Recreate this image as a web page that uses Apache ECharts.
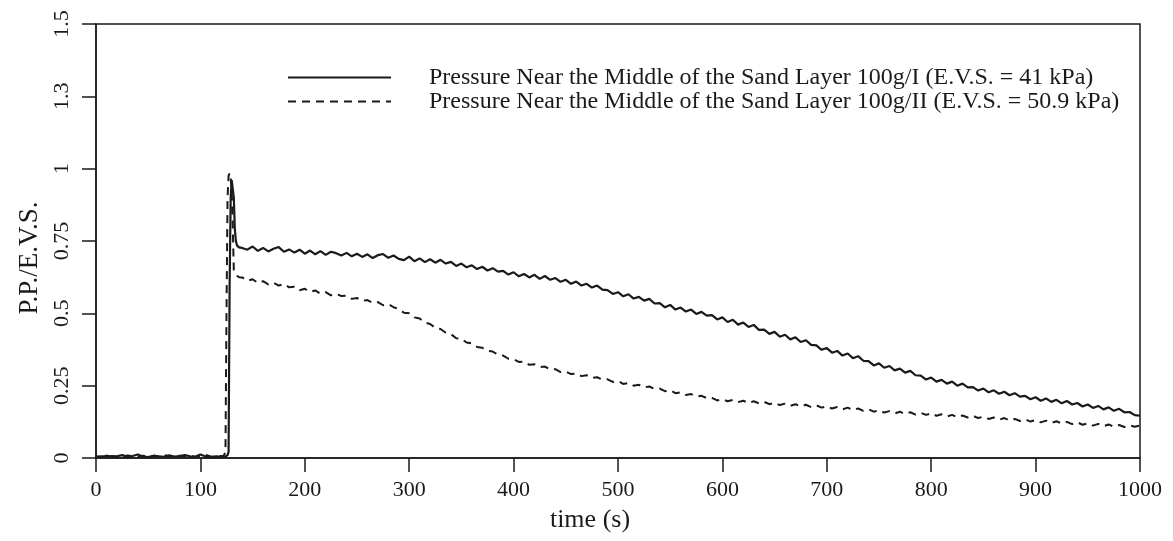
<!DOCTYPE html>
<html>
<head>
<meta charset="utf-8">
<script src="https://cdn.jsdelivr.net/npm/echarts@6/dist/echarts.min.js"></script>
<style>
html,body{margin:0;padding:0;background:#fff;}
#chart{width:1173px;height:541px;}
</style>
</head>
<body>
<div id="chart"></div>
<script>
// time (s)
const time = [
  0,5,10,15,20,25,30,35,40,45,50,55,60,65,70,75,80,85,90,95,100,105,110,115,120,
  122,124,125,126,127,128,129,130,131,132,133,134,135,137,
  140,145,150,155,160,165,170,175,180,185,
  190,195,200,205,210,215,220,225,230,235,
  240,245,250,255,260,265,270,275,280,285,
  290,295,300,305,310,315,320,325,330,335,
  340,345,350,355,360,365,370,375,380,385,
  390,395,400,405,410,415,420,425,430,435,
  440,445,450,455,460,465,470,475,480,485,
  490,495,500,505,510,515,520,525,530,535,
  540,545,550,555,560,565,570,575,580,585,
  590,595,600,605,610,615,620,625,630,635,
  640,645,650,655,660,665,670,675,680,685,
  690,695,700,705,710,715,720,725,730,735,
  740,745,750,755,760,765,770,775,780,785,
  790,795,800,805,810,815,820,825,830,835,
  840,845,850,855,860,865,870,875,880,885,
  890,895,900,905,910,915,920,925,930,935,
  940,945,950,955,960,965,970,975,980,985,
  990,995,1000
];
// Pressure near the middle of the sand layer 100g/I (solid)
const seriesI = [
  0.005,0.003,0.008,0.004,0.006,0.010,0.004,0.007,0.012,0.005,0.003,0.008,0.006,0.004,0.009,0.005,0.007,0.010,0.006,0.004,0.012,0.005,0.003,0.006,0.004,
  0.004,0.005,0.006,0.010,0.020,0.600,0.900,0.960,0.965,0.900,0.790,0.750,0.735,0.728,
  0.726,0.720,0.731,0.716,0.726,0.714,0.723,0.729,0.713,0.721,
  0.710,0.720,0.706,0.717,0.704,0.715,0.702,0.713,0.708,0.700,
  0.709,0.697,0.706,0.695,0.704,0.691,0.701,0.705,0.692,0.700,
  0.688,0.684,0.696,0.680,0.690,0.677,0.687,0.675,0.685,0.672,
  0.678,0.664,0.672,0.659,0.666,0.653,0.661,0.648,0.656,0.644,
  0.647,0.634,0.642,0.628,0.636,0.624,0.633,0.619,0.629,0.616,
  0.622,0.609,0.616,0.602,0.610,0.596,0.602,0.589,0.596,0.582,
  0.580,0.567,0.573,0.559,0.566,0.551,0.557,0.544,0.550,0.534,
  0.535,0.521,0.529,0.513,0.520,0.506,0.513,0.498,0.505,0.492,
  0.494,0.479,0.486,0.470,0.478,0.461,0.468,0.453,0.460,0.443,
  0.444,0.429,0.436,0.419,0.426,0.410,0.417,0.401,0.407,0.391,
  0.389,0.374,0.380,0.364,0.370,0.354,0.361,0.345,0.352,0.336,
  0.335,0.320,0.327,0.312,0.318,0.303,0.309,0.295,0.301,0.286,
  0.285,0.271,0.278,0.264,0.270,0.257,0.264,0.250,0.257,0.244,
  0.245,0.233,0.240,0.227,0.234,0.222,0.229,0.217,0.224,0.212,
  0.215,0.203,0.210,0.198,0.206,0.194,0.201,0.189,0.197,0.185,
  0.190,0.178,0.185,0.173,0.180,0.168,0.175,0.163,0.170,0.158,
  0.159,0.148,0.146
];
// Pressure near the middle of the sand layer 100g/II (dashed)
const seriesII = [
  0.004,0.006,0.003,0.007,0.005,0.004,0.009,0.006,0.003,0.008,0.005,0.007,0.004,0.010,0.006,0.003,0.008,0.005,0.009,0.004,0.006,0.011,0.005,0.004,0.007,
  0.005,0.020,0.500,0.900,0.975,0.985,0.970,0.920,0.800,0.650,0.640,0.635,0.630,0.625,
  0.624,0.612,0.618,0.605,0.611,0.600,0.606,0.596,0.601,0.590,
  0.592,0.580,0.585,0.574,0.579,0.568,0.573,0.562,0.567,0.560,
  0.561,0.550,0.553,0.543,0.546,0.536,0.539,0.528,0.532,0.521,
  0.515,0.502,0.500,0.486,0.482,0.468,0.463,0.450,0.446,0.433,
  0.428,0.414,0.412,0.399,0.396,0.384,0.381,0.370,0.368,0.357,
  0.354,0.343,0.342,0.332,0.333,0.322,0.324,0.314,0.316,0.306,
  0.307,0.297,0.299,0.290,0.292,0.283,0.286,0.277,0.279,0.271,
  0.272,0.263,0.266,0.256,0.259,0.250,0.253,0.244,0.247,0.239,
  0.240,0.231,0.234,0.224,0.227,0.218,0.221,0.212,0.215,0.207,
  0.208,0.199,0.203,0.196,0.201,0.193,0.198,0.190,0.196,0.189,
  0.194,0.186,0.191,0.183,0.188,0.180,0.186,0.178,0.184,0.176,
  0.182,0.174,0.179,0.171,0.176,0.168,0.174,0.166,0.171,0.163,
  0.168,0.160,0.165,0.157,0.162,0.154,0.160,0.152,0.158,0.150,
  0.156,0.149,0.154,0.146,0.151,0.143,0.149,0.141,0.147,0.140,
  0.146,0.138,0.143,0.135,0.140,0.132,0.138,0.130,0.135,0.128,
  0.134,0.126,0.131,0.123,0.129,0.121,0.127,0.119,0.125,0.117,
  0.123,0.115,0.120,0.112,0.118,0.110,0.116,0.108,0.114,0.107,
  0.113,0.108,0.112
];
const yTickLabels = ['0','0.25','0.5','0.75','1','1.3','1.5'];
const seriesNames = [
  'Pressure Near the Middle of the Sand Layer 100g/I (E.V.S. = 41 kPa)',
  'Pressure Near the Middle of the Sand Layer 100g/II (E.V.S. = 50.9 kPa)'
];
const xName = 'time (s)';
const yName = 'P.P./E.V.S.';

const FONT = '"Liberation Serif", "DejaVu Serif", serif';
const INK = '#1a1a1a';

const chart = echarts.init(document.getElementById('chart'), null, {renderer: 'canvas'});
chart.setOption({
  animation: false,
  backgroundColor: '#fff',
  grid: {left: 96, right: 33, top: 24, bottom: 83, show: true, borderColor: INK, borderWidth: 1.5, backgroundColor: 'transparent'},
  legend: {
    orient: 'vertical', left: 287, top: 65.5, itemGap: 0, padding: 0,
    itemWidth: 103, itemHeight: 14,
    itemStyle: {opacity: 0},
    textStyle: {fontFamily: FONT, fontSize: 24, color: INK, lineHeight: 21, padding: [0, 0, 0, 33]},
    data: seriesNames
  },
  xAxis: {
    type: 'value', min: 0, max: 1000, interval: 100,
    name: xName, nameLocation: 'middle', nameGap: 49,
    nameTextStyle: {fontFamily: FONT, fontSize: 26, color: INK, padding: [0, 56, 0, 0]},
    axisLine: {show: true, onZero: false, lineStyle: {color: INK, width: 1.5}},
    axisTick: {show: true, inside: false, length: 14, lineStyle: {color: INK, width: 1.5}},
    axisLabel: {fontFamily: FONT, fontSize: 22, color: INK, margin: 21, formatter: v => String(v)},
    splitLine: {show: false}
  },
  yAxis: {
    type: 'value', min: 0, max: 1.5, interval: 0.25,
    name: yName, nameLocation: 'middle', nameGap: 49,
    nameTextStyle: {fontFamily: FONT, fontSize: 27, color: INK, padding: [0, 34, 0, 0]},
    axisLine: {show: true, onZero: false, lineStyle: {color: INK, width: 1.5}},
    axisTick: {show: true, inside: false, length: 14, lineStyle: {color: INK, width: 1.5}},
    axisLabel: {fontFamily: FONT, fontSize: 22, color: INK, margin: 23, rotate: 90,
      formatter: v => yTickLabels[Math.round(v / 0.25)]},
    splitLine: {show: false}
  },
  series: [
    {
      name: seriesNames[0], type: 'line', symbol: 'none',
      data: time.map((t, i) => [t, seriesI[i]]),
      lineStyle: {color: INK, width: 2.2},
      itemStyle: {color: INK}
    },
    {
      name: seriesNames[1], type: 'line', symbol: 'none',
      data: time.map((t, i) => [t, seriesII[i]]),
      lineStyle: {color: INK, width: 2, type: [8, 6]},
      itemStyle: {color: INK}
    }
  ]
});
</script>
</body>
</html>
